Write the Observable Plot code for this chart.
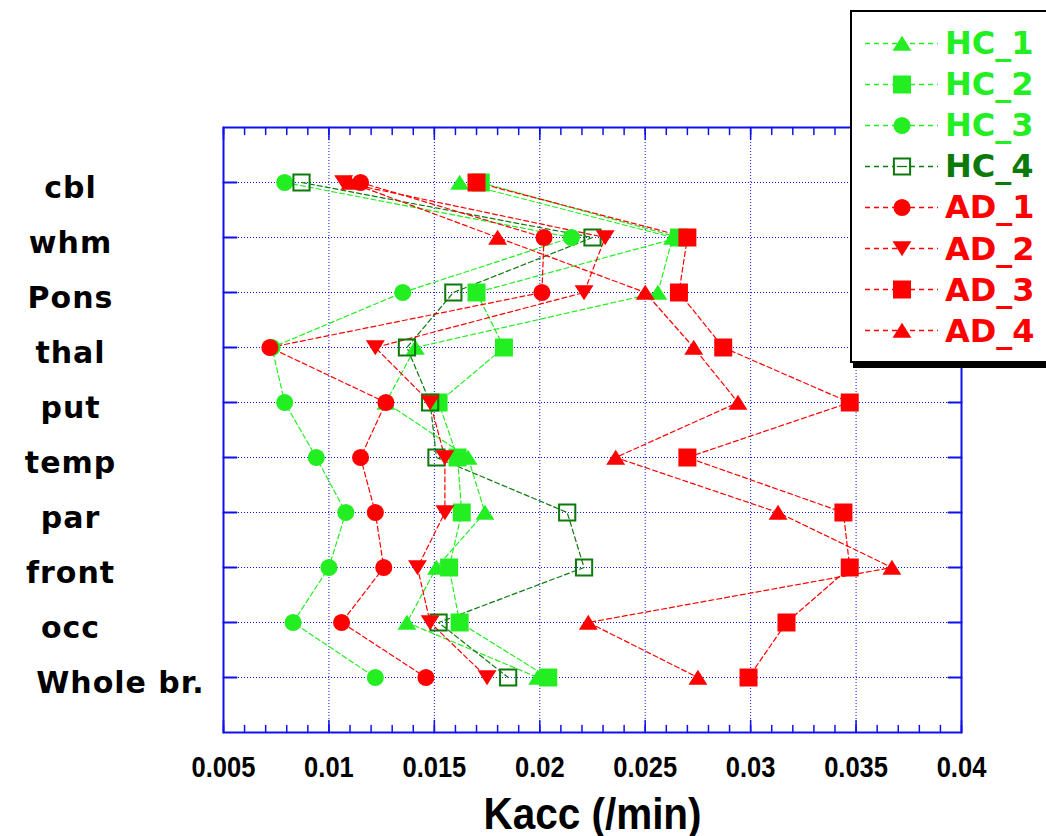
<!DOCTYPE html>
<html><head><meta charset="utf-8">
<script src="https://cdn.jsdelivr.net/npm/d3@7"></script>
<script src="https://cdn.jsdelivr.net/npm/@observablehq/plot@0.6"></script>
<style>
body{margin:0;background:#fff;overflow:hidden;width:1046px;height:836px;position:relative;}
#chart{position:absolute;left:0;top:0;}
#legend{position:absolute;left:850px;top:10px;width:230px;height:353px;box-sizing:border-box;border:2px solid #000;box-shadow:3px 5px 0 #000;background:#fff;padding-top:10.5px;}
.row{display:flex;align-items:center;height:41.1px;}
.row svg{flex:none;}
.row span{font-family:"DejaVu Sans",sans-serif;font-weight:bold;font-size:32px;line-height:1;white-space:nowrap;}
</style></head><body>
<div id="chart"></div><div id="legend"></div>
<script>
const categories = ["cbl","whm","Pons","thal","put","temp","par","front","occ","Whole br."];
const seriesNames = ["HC_1","HC_2","HC_3","HC_4","AD_1","AD_2","AD_3","AD_4"];
const HC_1 = [0.0162, 0.0263, 0.0256, 0.0141, 0.0127, 0.0166, 0.0174, 0.0151, 0.0137, 0.0199];
const HC_2 = [0.0172, 0.0266, 0.0170, 0.0183, 0.0152, 0.0161, 0.0163, 0.0157, 0.0162, 0.0204];
const HC_3 = [0.0079, 0.0215, 0.0135, 0.0073, 0.0079, 0.0094, 0.0108, 0.0100, 0.0083, 0.0122];
const HC_4 = [0.0087, 0.0225, 0.0159, 0.0137, 0.0148, 0.0151, 0.0213, 0.0221, 0.0152, 0.0185];
const AD_1 = [0.0115, 0.0202, 0.0201, 0.0072, 0.0127, 0.0115, 0.0122, 0.0126, 0.0106, 0.0146];
const AD_2 = [0.0107, 0.0231, 0.0221, 0.0122, 0.0148, 0.0155, 0.0155, 0.0142, 0.0148, 0.0175];
const AD_3 = [0.0170, 0.0270, 0.0266, 0.0287, 0.0347, 0.0270, 0.0344, 0.0347, 0.0317, 0.0299];
const AD_4 = [0.0110, 0.0180, 0.0250, 0.0273, 0.0294, 0.0236, 0.0313, 0.0367, 0.0223, 0.0275];
const seriesValues = [HC_1, HC_2, HC_3, HC_4, AD_1, AD_2, AD_3, AD_4];
const seriesColors = ["#22ee22","#22ee22","#22ee22","#0b7a0b","#ff0000","#ff0000","#ff0000","#ff0000"];
const seriesSymbols = ["triangle","square","circle","openSquare","circle","triangleDown","square","triangle"];
const xTickValues = [0.005, 0.01, 0.015, 0.02, 0.025, 0.03, 0.035, 0.04];
const xMinorTicks = d3.range(5, 41).map(v => v / 1000);
const xLabel = "Kacc (/min)";

const blue = "#1010ee";
const R = 9;
const sym = {
  circle: {draw(c, s){const r = Math.sqrt(s/Math.PI)*0.95; c.moveTo(r,0); c.arc(0,0,r,0,2*Math.PI);}},
  square: {draw(c, s){const r = Math.sqrt(s/Math.PI); c.rect(-r,-r,2*r,2*r);}},
  openSquare: {draw(c, s){const r = Math.sqrt(s/Math.PI)*0.9; c.rect(-r,-r,2*r,2*r);}},
  triangle: {draw(c, s){const r = Math.sqrt(s/Math.PI); c.moveTo(0,-0.85*r); c.lineTo(1.05*r,0.8*r); c.lineTo(-1.05*r,0.8*r); c.closePath();}},
  triangleDown: {draw(c, s){const r = Math.sqrt(s/Math.PI); c.moveTo(0,0.85*r); c.lineTo(1.05*r,-0.8*r); c.lineTo(-1.05*r,-0.8*r); c.closePath();}}
};
const tickShape = {draw(c, l){c.moveTo(0,0); c.lineTo(0,-l);}};

const rowsBySeries = seriesNames.map((name, i) =>
  categories.map((cat, j) => ({series: name, cat, value: seriesValues[i][j]})));

const marks = [
  Plot.gridX(xTickValues.slice(1, -1), {stroke: blue, strokeOpacity: 1, strokeWidth: 1, strokeDasharray: "1,2"}),
  Plot.gridY(categories, {stroke: blue, strokeOpacity: 1, strokeWidth: 1, strokeDasharray: "1,2"})
];
rowsBySeries.forEach((rows, i) => {
  marks.push(Plot.line(rows, {x: "value", y: "cat", stroke: seriesColors[i], strokeWidth: 1.2, strokeDasharray: "5,3"}));
});
rowsBySeries.forEach((rows, i) => {
  const s = seriesSymbols[i];
  const open = s === "openSquare";
  marks.push(Plot.dot(rows, {x: "value", y: "cat", r: R, symbol: sym[s],
    fill: open ? "none" : seriesColors[i], stroke: open ? seriesColors[i] : "none", strokeWidth: open ? 2 : 0}));
});
marks.push(
  Plot.frame({stroke: blue, strokeWidth: 2}),
  Plot.vector(xMinorTicks, {x: d => d, frameAnchor: "bottom", length: 7, rotate: 0, anchor: "start", shape: tickShape, stroke: blue, strokeWidth: 1.5}),
  Plot.vector(xMinorTicks, {x: d => d, frameAnchor: "top", length: 7, rotate: 180, anchor: "start", shape: tickShape, stroke: blue, strokeWidth: 1.5}),
  Plot.vector(xTickValues, {x: d => d, frameAnchor: "bottom", length: 12, rotate: 0, anchor: "start", shape: tickShape, stroke: blue, strokeWidth: 1.5}),
  Plot.vector(xTickValues, {x: d => d, frameAnchor: "top", length: 12, rotate: 180, anchor: "start", shape: tickShape, stroke: blue, strokeWidth: 1.5}),
  Plot.vector(categories, {y: d => d, frameAnchor: "left", length: 13, rotate: 90, anchor: "start", shape: tickShape, stroke: blue, strokeWidth: 2}),
  Plot.vector(categories, {y: d => d, frameAnchor: "right", length: 13, rotate: -90, anchor: "start", shape: tickShape, stroke: blue, strokeWidth: 2}),
  Plot.axisX(xTickValues, {anchor: "bottom", tickSize: 0, tickPadding: 24, tickFormat: d => String(d), label: null,
    fontSize: 29, fontWeight: "bold", fontFamily: "Liberation Sans, Arial, sans-serif", fill: "#000"}),
  Plot.axisY(categories, {anchor: "left", tickSize: 0, tickPadding: 153, textAnchor: "middle", label: null, dy: 6,
    fontSize: 30, fontWeight: "bold", fontFamily: "DejaVu Sans, sans-serif", fill: "#000"}),
  Plot.text([xLabel], {frameAnchor: "bottom", dy: 96, fontSize: 44, fontWeight: "bold",
    fontFamily: "Liberation Sans, Arial, sans-serif", fill: "#000"})
);

const chart = Plot.plot({
  width: 1046, height: 836,
  marginLeft: 223, marginRight: 85, marginTop: 127, marginBottom: 104,
  x: {domain: [0.005, 0.04], axis: null},
  y: {type: "point", domain: categories, padding: 1, axis: null},
  style: {background: "white", fontFamily: "DejaVu Sans, sans-serif", overflow: "visible"},
  marks
});

function condense(t, k) {
  const tr = t.getAttribute("transform");
  if (tr) t.setAttribute("transform", tr + ` scale(${k},1)`);
  else {
    const x = +(t.getAttribute("x") || 0);
    t.setAttribute("transform", `translate(${x},0) scale(${k},1) translate(${-x},0)`);
  }
}
const xLabelsText = xTickValues.map(String);
chart.querySelectorAll("text").forEach(t => {
  const s = t.textContent;
  if (s === "Whole br.") t.setAttribute("dx", 50);
  if (categories.includes(s)) t.style.letterSpacing = "1px";
  if (xLabelsText.includes(s)) condense(t, 0.88);
  if (s === xLabel) condense(t, 0.92);
});
document.getElementById("chart").appendChild(chart);

// Legend
const legend = d3.select("#legend");
seriesNames.forEach((name, i) => {
  const row = legend.append("div").attr("class", "row");
  const svg = row.append("svg").attr("width", 93).attr("height", 41);
  svg.append("line").attr("x1", 13).attr("x2", 86).attr("y1", 20.5).attr("y2", 20.5)
    .attr("stroke", seriesColors[i]).attr("stroke-width", 1.3).attr("stroke-dasharray", "5,4");
  const open = seriesSymbols[i] === "openSquare";
  svg.append("path").attr("transform", "translate(50,20.5)")
    .attr("d", d3.symbol(sym[seriesSymbols[i]], Math.PI * R * R)())
    .attr("fill", open ? "#fff" : seriesColors[i])
    .attr("stroke", open ? seriesColors[i] : "none").attr("stroke-width", open ? 2 : 0);
  if (open) svg.append("line").attr("x1", 45).attr("x2", 55).attr("y1", 20.5).attr("y2", 20.5)
    .attr("stroke", seriesColors[i]).attr("stroke-width", 1.3);
  row.append("span").style("color", seriesColors[i]).text(name);
});
</script>
</body></html>
